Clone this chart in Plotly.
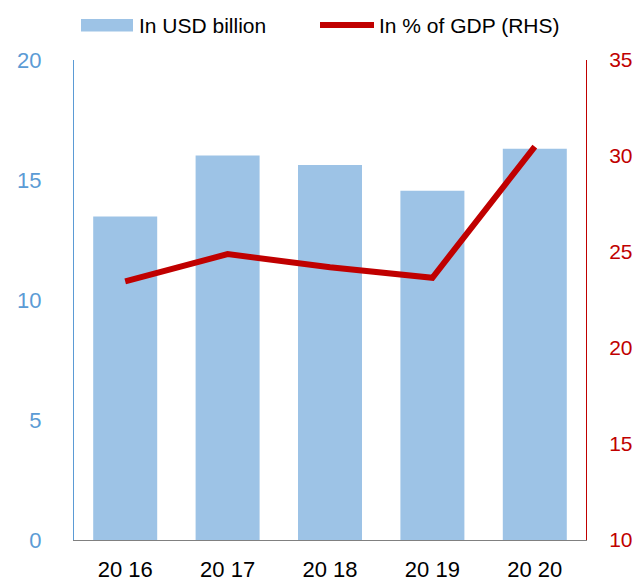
import plotly.graph_objects as go

years = ["20 16", "20 17", "20 18", "20 19", "20 20"]
usd_bn = [13.48, 16.02, 15.63, 14.55, 16.3]
pct_gdp = [23.47, 24.89, 24.21, 23.66, 30.49]

fnt = "Liberation Sans, Arial, sans-serif"
bar_col = "#9dc3e6"
line_col = "#c00000"

W, H = 636, 582
ML, MR, MT, MB = 74, 50, 60, 42
PW, PH = W - ML - MR, H - MT - MB

# pixel -> paper helpers for the hand-drawn legend
def px(x):
    return (x - ML) / PW

def py(y):
    return (H - MB - y) / PH

fig = go.Figure()
fig.add_trace(go.Bar(x=years, y=usd_bn, name="In USD billion",
                     marker=dict(color=bar_col, line=dict(width=0))))
fig.add_trace(go.Scatter(x=years, y=pct_gdp, name="In % of GDP (RHS)", yaxis="y2",
                         mode="lines", line=dict(color=line_col, width=6)))

# legend drawn by hand (wide swatches like the original)
fig.add_shape(type="rect", xref="paper", yref="paper",
              x0=px(81), x1=px(133), y0=py(31.5), y1=py(19),
              fillcolor=bar_col, line=dict(width=0))
fig.add_shape(type="line", xref="paper", yref="paper",
              x0=px(320), x1=px(374), y0=py(25), y1=py(25),
              line=dict(color=line_col, width=6))
fig.add_annotation(text="In USD billion", xref="paper", yref="paper",
                   x=px(137), y=py(25.5), xanchor="left", yanchor="middle",
                   showarrow=False, font=dict(size=21, color="black"))
fig.add_annotation(text="In % of GDP (RHS)", xref="paper", yref="paper",
                   x=px(377), y=py(25.5), xanchor="left", yanchor="middle",
                   showarrow=False, font=dict(size=21, color="black"))

fig.update_layout(
    width=W, height=H,
    margin=dict(l=ML, r=MR, t=MT, b=MB, autoexpand=False),
    plot_bgcolor="white", paper_bgcolor="white",
    font=dict(family=fnt, size=22, color="black"),
    bargap=0.375,
    showlegend=False,
    xaxis=dict(showline=True, linecolor="#808080", linewidth=1, showgrid=False,
               ticks="", ticklabelstandoff=10, tickfont=dict(size=22, color="black")),
    yaxis=dict(range=[0, 20], dtick=5, showline=True, linecolor="#5b9bd5", linewidth=1,
               showgrid=False, zeroline=False, ticks="", ticklabelstandoff=27,
               tickfont=dict(size=22, color="#5b9bd5")),
    yaxis2=dict(range=[10, 35], dtick=5, overlaying="y", side="right", showline=True,
                linecolor=line_col, linewidth=1, showgrid=False, zeroline=False,
                ticks="", ticklabelstandoff=18,
                tickfont=dict(size=21, color=line_col)),
)

# drop the page's default body margin so the figure sits at the window corner
fig.write_html("out.html", config={"displayModeBar": False},
               post_script="document.body.style.margin='0';document.body.style.overflow='hidden';")
